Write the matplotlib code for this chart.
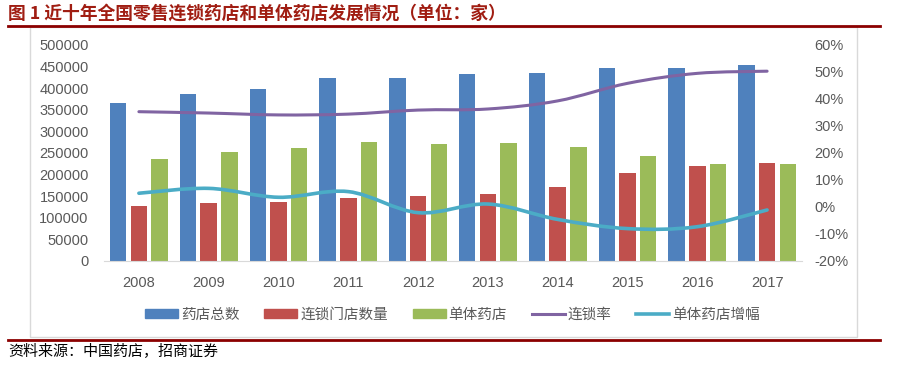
import numpy as np
import matplotlib.pyplot as plt
from matplotlib.path import Path
from matplotlib.patches import PathPatch, Rectangle
from matplotlib.lines import Line2D

plt.rcParams['font.family'] = ['Noto Sans CJK SC', 'DejaVu Sans']

# data (units: stores / fraction)
years = ['2008', '2009', '2010', '2011', '2012', '2013', '2014', '2015', '2016', '2017']
total_stores = [366000, 387000, 398000, 424000, 424000, 432000, 435000, 447000, 447000, 453000]
chain_stores = [128000, 133500, 136000, 145000, 150500, 156000, 171500, 203000, 220000, 227500]
single_stores = [235500, 251500, 261000, 276000, 270000, 274000, 263000, 242500, 225500, 224000]
chain_rate = [0.353, 0.348, 0.341, 0.344, 0.359, 0.363, 0.393, 0.458, 0.495, 0.503]
single_growth = [0.051, 0.069, 0.036, 0.057, -0.021, 0.011, -0.046, -0.080, -0.073, -0.011]

c_blue, c_red, c_green = '#4F81BD', '#C0504D', '#9BBB59'
c_purple, c_cyan = '#8064A2', '#4BACC6'
grey = '#595959'
W, H = 905, 383

fig = plt.figure(figsize=(W/100, H/100), dpi=100)
ax1 = fig.add_axes([104/W, 1-261/H, 698/W, 216/H])
ax2 = ax1.twinx()

x = np.arange(len(years))
bw, off = 0.236, 0.297
ax1.bar(x-off, total_stores, bw, color=c_blue, label='药店总数')
ax1.bar(x, chain_stores, bw, color=c_red, label='连锁门店数量')
ax1.bar(x+off, single_stores, bw, color=c_green, label='单体药店')

def smooth_path(xs, ys):
    # excel-like smoothed line: catmull-rom segments as cubic bezier
    p = np.column_stack([xs, ys]).astype(float)
    verts = [p[0]]
    codes = [Path.MOVETO]
    n = len(p)
    for i in range(n-1):
        p0 = p[max(i-1, 0)]
        p3 = p[min(i+2, n-1)]
        c1 = p[i] + (p[i+1]-p0)/6
        c2 = p[i+1] - (p3-p[i])/6
        verts += [c1, c2, p[i+1]]
        codes += [Path.CURVE4]*3
    return Path(verts, codes)

ax2.add_patch(PathPatch(smooth_path(x, chain_rate), fill=False, ec=c_purple, lw=2.2, capstyle='round'))
ax2.add_patch(PathPatch(smooth_path(x, single_growth), fill=False, ec=c_cyan, lw=2.6, capstyle='round'))

ax1.set_xlim(-0.5, len(years)-0.5)
ax1.set_ylim(0, 500000)
ax1.set_yticks(np.arange(0, 500001, 50000))
ax2.set_ylim(-0.2, 0.6)
ax2.set_yticks(np.arange(-0.2, 0.61, 0.1))
ax2.set_yticklabels(['{:.0f}%'.format(v*100) for v in np.arange(-0.2, 0.61, 0.1)])
ax1.set_xticks(x)
ax1.set_xticklabels(years)

for a in (ax1, ax2):
    for s in a.spines.values():
        s.set_visible(False)
    a.tick_params(length=0, colors=grey, labelsize=10.5)
    for lab in a.get_xticklabels() + a.get_yticklabels():
        lab.set_family('Liberation Sans')
ax1.spines['bottom'].set_visible(True)
ax1.spines['bottom'].set_color('#d9d9d9')
ax1.tick_params(axis='y', pad=11)
ax1.tick_params(axis='x', pad=11)
ax2.tick_params(axis='y', pad=9)

handles = [Rectangle((0, 0), 1, 1, color=c_blue), Rectangle((0, 0), 1, 1, color=c_red),
           Rectangle((0, 0), 1, 1, color=c_green),
           Line2D([], [], color=c_purple, lw=2.2), Line2D([], [], color=c_cyan, lw=2.6)]
labels = ['药店总数', '连锁门店数量', '单体药店', '连锁率', '单体药店增幅']
leg = fig.legend(handles, labels, loc='center', bbox_to_anchor=(0.5, 1-315/H), ncol=5,
                 frameon=False, fontsize=10.5, handlelength=2.26, handleheight=0.55,
                 handletextpad=0.2, columnspacing=1.7, borderpad=0)
for t in leg.get_texts():
    t.set_color(grey)

# grey frame round the chart
fig.add_artist(Rectangle((30/W, 1-337/H), 827/W, 310/H, transform=fig.transFigure,
                         fill=False, ec='#d9d9d9', lw=1))
# title, rules, source
fig.add_artist(Line2D([8/W, 880/W], [1-26/H, 1-26/H], color='#8B0000', lw=2))
fig.add_artist(Line2D([8/W, 880/W], [1-340/H, 1-340/H], color='#8B0000', lw=2))
fig.text(8/W, 1-13.5/H, '图 1 近十年全国零售连锁药店和单体药店发展情况（单位：家）',
         color='#A01D12', fontsize=12.8, fontweight='bold', va='center', ha='left')
fig.text(8/W, 1-352/H, '资料来源：中国药店，招商证券', color='black', fontsize=10.8,
         va='center', ha='left')

fig.savefig('out.png', dpi=100)
